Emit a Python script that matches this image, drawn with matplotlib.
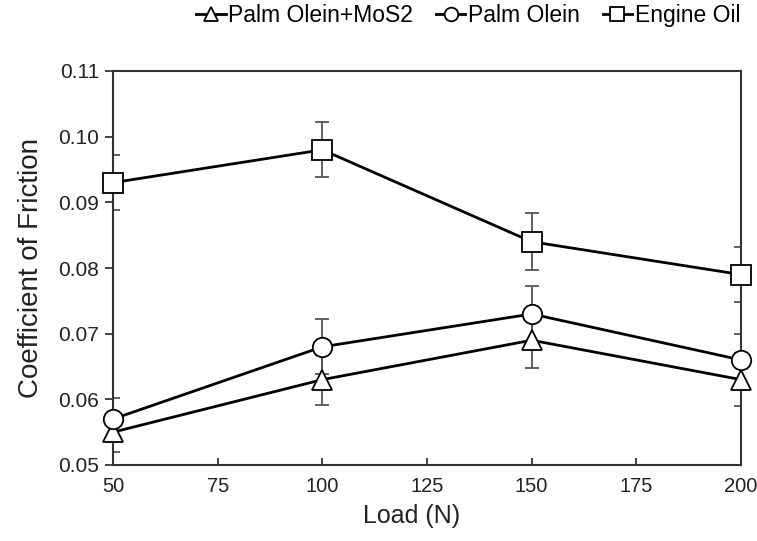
import matplotlib
matplotlib.use("Agg")
import matplotlib.pyplot as plt
import numpy as np

plt.rcParams['font.family'] = ['Liberation Sans', 'DejaVu Sans']

loads = [50, 100, 150, 200]
series_names = ["Palm Olein+MoS2", "Palm Olein", "Engine Oil"]
mos2 = [0.055, 0.063, 0.069, 0.063]
mos2_err = [0.003, 0.0038, 0.0042, 0.004]
olein = [0.057, 0.068, 0.073, 0.066]
olein_err = [0.0032, 0.0042, 0.0043, 0.0040]
engine = [0.093, 0.098, 0.084, 0.079]
engine_err = [0.0042, 0.0042, 0.0043, 0.0042]
x_ticks = [50, 75, 100, 125, 150, 175, 200]
y_ticks = [0.05, 0.06, 0.07, 0.08, 0.09, 0.10, 0.11]
y_ticklabels = ["0.05", "0.06", "0.07", "0.08", "0.09", "0.10", "0.11"]

fig = plt.figure(figsize=(7.57, 5.41), dpi=100)
ax = fig.add_axes([113/757, 1-465/541, (741-113)/757, (465-71)/541])

markers = ['^', 'o', 's']
data = [mos2, olein, engine]
errs = [mos2_err, olein_err, engine_err]
handles = []
for name, m, y, e in zip(series_names, markers, data, errs):
    ax.errorbar(loads, y, yerr=e, fmt='none', ecolor='#555555', elinewidth=1.3,
                capsize=5, capthick=1.3, zorder=2)
    h, = ax.plot(loads, y, color='black', lw=2, marker=m, markersize=14,
                 markerfacecolor='white', markeredgecolor='black', markeredgewidth=1.3,
                 zorder=3, clip_on=False, label=name)
    handles.append(h)

ax.set_xlim(50, 200)
ax.set_ylim(0.05, 0.11)
ax.set_xticks(x_ticks)
ax.set_yticks(y_ticks)
ax.set_yticklabels(y_ticklabels)
ax.tick_params(axis='x', direction='in', length=5, width=1.2, labelsize=14.5, pad=9, colors='#222222')
ax.tick_params(axis='y', direction='out', length=6, width=1.2, labelsize=15, pad=4, colors='#222222')
for s in ax.spines.values():
    s.set_linewidth(1.5)
    s.set_color('#333333')

ax.set_xlabel("Load (N)", fontsize=18, labelpad=4, color='#222222')
ax.xaxis.set_label_coords(0.475, -0.1)
ax.xaxis.label.set_va('top')
ax.set_ylabel("Coefficient of Friction", fontsize=20, labelpad=10, color='#222222')

leg = fig.legend(handles=handles, loc='center right', bbox_to_anchor=(1.005, 0.972), ncol=3,
                 frameon=False, fontsize=16.5, handlelength=1.3, handletextpad=0.1,
                 columnspacing=1.0, markerscale=0.7)

fig.savefig("out.png", dpi=100)
